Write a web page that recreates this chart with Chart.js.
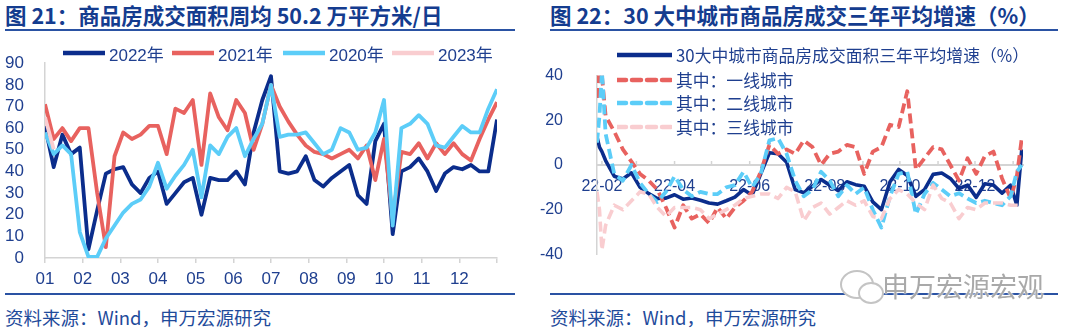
<!DOCTYPE html>
<html><head><meta charset="utf-8">
<script src="https://cdn.jsdelivr.net/npm/chart.js@4.4.0/dist/chart.umd.min.js"></script>
<style>
html,body{margin:0;padding:0;background:#fff;width:1080px;height:333px;overflow:hidden;}
#wrap{position:relative;width:1080px;height:333px;font-family:"Liberation Sans","Noto Sans CJK SC",sans-serif;}
.title{position:absolute;top:2px;font-family:"Noto Sans CJK SC",sans-serif;font-weight:bold;font-size:21.5px;color:#143c8f;white-space:nowrap;line-height:26px;}
.rule{position:absolute;height:2px;background:#2a52a3;}
.src{position:absolute;top:305px;font-family:"Noto Sans CJK SC",sans-serif;font-size:18.5px;color:#1f4b9b;line-height:24px;white-space:nowrap;}
canvas{position:absolute;}
.leg{position:absolute;display:flex;align-items:center;color:#1f3f8f;white-space:nowrap;height:20px;}
.leg svg{margin-right:4px;}
.wm{position:absolute;left:882px;top:268px;font-family:"Noto Sans CJK SC",sans-serif;font-size:27px;color:#a9a9a9;white-space:nowrap;text-shadow:0 0 2px #fff,0 0 2px #fff;line-height:36px;}
.logo1{position:absolute;left:840px;top:270px;width:30px;height:25px;border:2px solid #c4c4c4;border-radius:50%;background:#fff;}
.logo2{position:absolute;left:858px;top:282px;width:22px;height:18px;border:2px solid #c4c4c4;border-radius:50%;background:#fff;}
</style></head>
<body><div id="wrap">
<div class="title" style="left:5px">图 21：商品房成交面积周均 50.2 万平方米/日</div>
<div class="title" style="left:550px">图 22：30 大中城市商品房成交三年平均增速（%）</div>
<div class="rule" style="left:5px;top:29px;width:510px"></div>
<div class="rule" style="left:550px;top:29px;width:508px"></div>

<canvas id="c1" width="540" height="250" style="left:0;top:40px"></canvas>
<canvas id="c2" width="540" height="250" style="left:540px;top:40px"></canvas>

<div id="leg1"></div>
<div id="leg2"></div>

<div class="rule" style="left:5px;top:293px;width:510px"></div>
<div class="rule" style="left:550px;top:293px;width:508px"></div>
<div class="logo1"></div><div class="logo2"></div>
<div class="wm">申万宏源宏观</div>
<div class="src" style="left:5px">资料来源：Wind，申万宏源研究</div>
<div class="src" style="left:550px">资料来源：Wind，申万宏源研究</div>
</div>
<script>
// ---------- Chart 21 data (weekly, week index 0..52) ----------
const monthLabels = ['01','02','03','04','05','06','07','08','09','10','11','12'];
const seriesNames1 = ['2022年','2021年','2020年','2023年'];
const y2022 = [61,42,57,48,51,4,22,39,41,42,34,30,37,40,25,30,35,37,20,37,36,36,40,34,58,73,84,
               40,39,40,47,36,33,37,40,43,29,25,54,62,11,40,42,46,40,31,39,42,41,43,40,40,64];
const y2021 = [71,55,60,54,60,60,30,5,47,58,55,57,61,61,48,69,67,73,43,76,65,59,73,67,50,62,80,
               70,63,57,52,49,48,46,48,50,46,52,36,55,18,49,48,53,46,53,48,53,48,45,55,64,72];
const y2020 = [58,48,52,48,12,0.5,0.5,9,15,21,25,27,33,44,32,38,43,50,28,52,48,56,60,47,55,62,80,
               56,57,57,58,53,48,50,60,58,50,51,58,73,15,60,62,66,62,52,51,56,61,58,58,69,78];
const y2023 = [65,50.2];
const yTicks1 = [0,10,20,30,40,50,60,70,80,90];

// ---------- Chart 22 data (day offsets from 2022-02-01) ----------
const days = [-4,-2,0,3,10,17,24,31,38,45,52,59,66,73,80,87,94,101,108,115,122,129,136,143,150,157,164,171,178,
              185,192,199,206,213,220,227,234,241,248,255,262,269,276,283,290,297,304,311,318,325,332,337,341];
const seriesNames2 = ['30大中城市商品房成交面积三年平均增速（%）','其中：一线城市','其中：二线城市','其中：三线城市'];
const total30 = [12.6,8,6,2,-5,-6.3,-3.5,-10,-12.8,-15,-14.8,-13.3,-15.3,-14.8,-15.8,-17,-17.5,-16,-14.4,-11,-13.5,-4,5.5,5,1.2,-11,-12.4,
                 -9.5,-6.5,-9,-11.5,-7.5,-8.8,-9.5,-16.5,-20,-7.5,-2,-4.7,-14,-11,-4.2,-3.6,-6,-10.5,-9,-14.5,-8.4,-9,-12.6,-9,-18,7];
const tier1 = [30,45,40,22,15,7,1.5,-4,-7,-11,-19,-28,-18,-24,-22,-26,-19,-24,-19,-16,-12,-3,9,5,7,5,11,
               8,0,5,6,9,8,-4,6,8,18,17,33,-2,3,8,7,0,-7,3,-4,4,6,-6,-15,-5,12];
const tier2 = [10,22,42,14,-4,-7,0,-8,-13,-16.5,-12,-5,-11,-14,-12,-13,-13,-10,-9,-3,-10,-4,11,12,5,-7,-14,
               -11,-3,-7,-14,-9,-13,-10,-20,-28,-14,-4,-3,-22,-13,-8,-11,-14,-12.6,-15,-17,-16,-17,-18,-14,-3,0];
const tier3 = [-12,-20,-38,-27,-18,-20,-16,-12,-13,-19,-23,-19,-19,-19,-20,-24,-22,-20,-18,-15,-14,-13,-13,-15,-10,-12,-25,
               -19,-17,-22,-19,-16,-18,-16,-23,-24,-15,-11,-13,-17,-20,-9,-15,-17,-24,-19,-20,-17,-17,-17,-18,-18,-18];
const monthTickDays = [0,28,59,89,120,150,181,212,242,273,303,334];
const monthTickLabels = ['22-02','','22-04','','22-06','','22-08','','22-10','','22-12',''];
const yTicks2 = [-40,-20,0,20,40];

const NAVY='#0b2d8c', RED='#e8625f', CYAN='#5ccdf8', PINK='#f9cdd0', TXT='#1f3f8f', AX='#d4d4d4';
const colors1=[NAVY,RED,CYAN,PINK];
const colors2=[NAVY,RED,CYAN,PINK];

// ---------- Chart 21 ----------
const ser1=[y2022,y2021,y2020,y2023];
const monthPos = [];
for(let m=0;m<=12;m++) monthPos.push(m*52/12);
new Chart(document.getElementById('c1'),{
  type:'line',
  data:{datasets: ser1.map((s,k)=>({
    label:seriesNames1[k], data:s.map((v,i)=>({x:i,y:v})),
    borderColor:colors1[k], borderWidth:3.8, pointRadius:0, tension:0, order:4-k,
    borderJoinStyle:'round', fill:false
  }))},
  options:{
    responsive:false, animation:false, events:[],
    layout:{padding:{left:0,right:43,top:15,bottom:0}},
    plugins:{legend:{display:false},tooltip:{enabled:false}},
    scales:{
      x:{type:'linear',min:0,max:52,
        afterBuildTicks:ax=>{ax.ticks=monthPos.map(v=>({value:v}));},
        afterFit:ax=>{ax.height=32;},
        ticks:{autoSkip:false,maxRotation:0,minRotation:0,padding:6,color:TXT,font:{size:17,family:'Liberation Sans'},
               callback:(v,i)=>monthLabels[i]||''},
        grid:{drawOnChartArea:false,tickLength:5,color:AX,lineWidth:1.5},
        border:{color:AX,width:1.5}},
      y:{min:0,max:90,
        afterBuildTicks:ax=>{ax.ticks=yTicks1.map(v=>({value:v}));},
        afterFit:ax=>{ax.width=45;},
        ticks:{autoSkip:false,padding:13,color:TXT,font:{size:17,family:'Liberation Sans'}},
        grid:{display:false},
        border:{color:AX,width:1.5}}
    }
  }
});

// ---------- Chart 22 ----------
const ser2=[total30,tier1,tier2,tier3];
const dashes=[[],[10,5],[10,5],[10,5]];
const widths=[3.6,3.8,3.8,3.6];
const monthMarks={id:'monthMarks',beforeDatasetsDraw(chart){
  const x=chart.scales.x,y=chart.scales.y,ctx=chart.ctx,y0=y.getPixelForValue(0);
  ctx.save();ctx.strokeStyle=AX;ctx.lineWidth=1.5;
  monthTickDays.forEach(d=>{const px=x.getPixelForValue(d);ctx.beginPath();ctx.moveTo(px,y0);ctx.lineTo(px,y0-4);ctx.stroke();});
  ctx.restore();}};
new Chart(document.getElementById('c2'),{
  type:'line',
  data:{datasets: ser2.map((s,k)=>({
    label:seriesNames2[k], data:s.map((v,i)=>({x:days[i],y:v})),
    borderColor:colors2[k], borderWidth:widths[k], borderDash:dashes[k], pointRadius:0, tension:0, order:4-k,
    borderJoinStyle:'round', fill:false
  }))},
  options:{
    responsive:false, animation:false, events:[],
    layout:{padding:{left:0,right:57,top:9,bottom:20}},
    plugins:{legend:{display:false},tooltip:{enabled:false}},
    scales:{
      x:{type:'linear',min:-4,max:342,position:{y:0},
        afterBuildTicks:ax=>{ax.ticks=monthTickDays.map(v=>({value:v}));},
        ticks:{autoSkip:false,maxRotation:0,minRotation:0,padding:12,color:TXT,font:{size:16,family:'Liberation Sans'},
               callback:(v,i)=>monthTickLabels[i]||''},
        grid:{drawOnChartArea:false,drawTicks:false},
        border:{color:AX,width:2}},
      y:{min:-40,max:40,
        afterBuildTicks:ax=>{ax.ticks=yTicks2.map(v=>({value:v}));},
        afterFit:ax=>{ax.width=57;},
        ticks:{autoSkip:false,padding:26,color:TXT,font:{size:16,family:'Liberation Sans'}},
        grid:{display:false},
        border:{color:AX,width:1.5}}
    }
  },
  plugins:[monthMarks]
});

// ---------- HTML legends ----------
function lineSvg(color,dash,len,lw){
  return '<svg width="'+len+'" height="10"><line x1="0" y1="5" x2="'+len+'" y2="5" stroke="'+color+'" stroke-width="'+lw+'"'+
    (dash.length?' stroke-dasharray="'+dash.join(',')+'"':'')+' stroke-linecap="round"/></svg>';
}
const leg1X=[63,172,283,392];
document.getElementById('leg1').innerHTML=seriesNames1.map((n,k)=>
  '<div class="leg" style="left:'+leg1X[k]+'px;top:43px;font-size:17px">'+lineSvg(colors1[k],[],42,4.5)+'<span>'+n+'</span></div>').join('');
const leg2Y=[55,80,103,127];
const legDash=[[],[9,6],[9,6],[9,6]];
document.getElementById('leg2').innerHTML=seriesNames2.map((n,k)=>
  '<div class="leg" style="left:617px;top:'+(leg2Y[k]-10)+'px;font-size:16.8px;font-family:\'Noto Sans CJK SC\',sans-serif">'+lineSvg(colors2[k],legDash[k],55,4.5)+'<span>'+n+'</span></div>').join('');
</script>
</body></html>
